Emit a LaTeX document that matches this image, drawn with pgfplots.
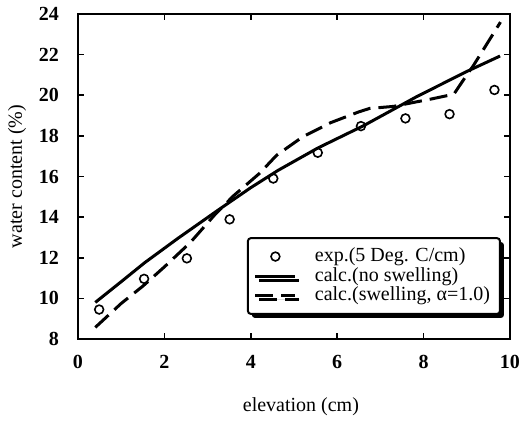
\documentclass[border=0pt]{standalone}
\usepackage{fontspec}
\setmainfont{Liberation Serif}
\usepackage{pgfplots}
\pgfplotsset{compat=1.18}
\usetikzlibrary{shadows}
\pgfplotsset{
  linelegend/.style={legend image code/.code={\draw[##1] (0pt,0pt) -- (20pt,0pt); \path (27pt,0pt);}},
  marklegend/.style={legend image code/.code={\draw[mark repeat=2,mark phase=2,##1] plot coordinates {(0pt,0pt)(10pt,0pt)(20pt,0pt)}; \path (27pt,0pt);}},
}
\begin{document}
\begin{tikzpicture}
\begin{axis}[
  name=ax,
  scale only axis, width=216pt, height=162.5pt,
  xmin=0, xmax=10, ymin=8, ymax=24,
  xtick={0,2,...,10}, ytick={8,10,...,24},
  axis line style={line width=1pt},
  tick style={line width=0.8pt, black},
  major tick length=3pt,
  tick align=inside,
  /pgf/number format/assume math mode=true,
  ticklabel style={font=\bfseries},
  xticklabel style={yshift=-4.5pt},
  yticklabel style={xshift=-6pt},
  xlabel={elevation (cm)},
  ylabel={water content (\%)},
  xlabel style={at={(axis description cs:0.516,-0.2092)}, anchor=center},
  ylabel style={at={(axis description cs:-0.1412,0.5)}, anchor=center},
  legend style={at={(rel axis cs:0.391,0.074)}, anchor=south west, draw=black,
    line width=1pt, fill=white, rounded corners=1.5pt,
    drop shadow={shadow xshift=2pt, shadow yshift=-2pt, fill=black, opacity=1},
    inner xsep=3pt, inner ysep=3pt, row sep=-2.7pt, font=\normalsize},
  legend cell align=left,
]
\addplot[only marks, mark=o, mark size=2.2pt, mark options={line width=0.8pt, solid}, marklegend]
coordinates {
(0.49,9.45) (1.53,10.96) (2.52,11.97) (3.51,13.89) (4.52,15.90)
(5.55,17.17) (6.55,18.48) (7.58,18.86) (8.60,19.07) (9.64,20.26)
};
\addlegendentry{exp.(5 Deg. C/cm)}
\addplot[black, line width=1.5pt, linelegend] coordinates {
(0.40,9.80) (1.00,10.82) (1.54,11.75) (2.31,12.95) (3.24,14.34) (4.00,15.45)
(4.63,16.30) (5.55,17.40) (6.61,18.50) (7.84,19.93) (8.99,21.16) (9.77,21.93)
};
\addlegendentry{calc.(no swelling)}
\addplot[black, line width=1.5pt, dash pattern=on 9pt off 4pt, linelegend] coordinates {
(0.40,8.57) (1.00,9.75) (1.50,10.60) (2.00,11.55) (2.60,12.75) (3.16,14.10)
(3.60,15.05) (4.20,16.15) (4.60,17.05) (5.20,17.95) (5.85,18.65) (6.50,19.18)
(6.75,19.35) (7.30,19.45) (7.85,19.68) (8.10,19.78) (8.70,20.05) (9.00,21.00)
(9.15,21.45) (9.78,23.60)
};
\addlegendentry{calc.(swelling, α=1.0)}
\end{axis}
\pgfresetboundingbox
\path[use as bounding box] ([shift={(-39pt,-41pt)}]ax.south west) rectangle ([shift={(8pt,7pt)}]ax.north east);
\end{tikzpicture}
\end{document}
